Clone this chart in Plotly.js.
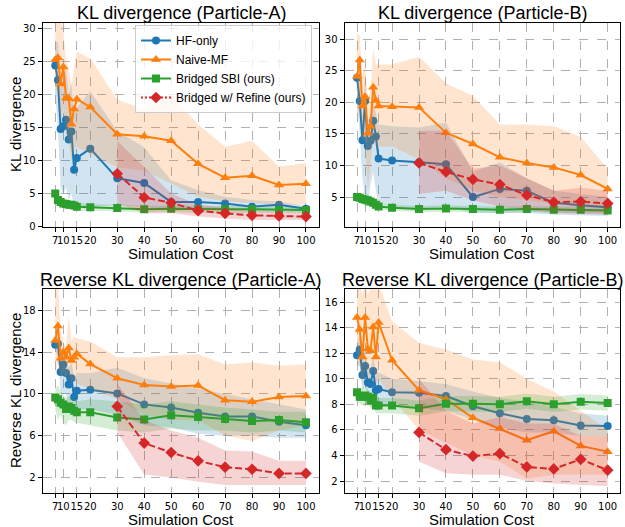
<!DOCTYPE html>
<html>
<head>
<meta charset="utf-8">
<script src="https://cdn.plot.ly/plotly-3.0.1.min.js"></script>
<style>html,body{margin:0;padding:0;background:#fff;}#chart{width:625px;height:527px;}</style>
</head>
<body>
<div id="chart"></div>
<script>
// ---------- data ----------
const X = [7,8,9,10,11,12,13,14,15,20,30,40,50,60,70,80,90,100];
const XR = [30,40,50,60,70,80,90,100];
const XTICKS = [7,10,15,20,30,40,50,60,70,80,90,100];
const SERIES_NAMES = ["HF-only","Naive-MF","Bridged SBI (ours)","Bridged w/ Refine (ours)"];

// KL divergence (Particle-A)
const klA_hf    = [24.4,22.2,14.8,15.2,16.2,13.2,14.4,8.6,10.4,11.8,7.3,6.6,3.7,3.7,3.5,3.0,3.3,2.7];
const klA_hf_lo = [20,15,6,5,6,4,5,3,3,3,3.2,3.0,2.4,2.6,2.5,2.4,2.3,2.2];
const klA_hf_hi = [28,28,22,22,24,20,22,17,18,20.5,14.5,12,7,5.5,4.5,4,3.8,3.1];
const klA_nv    = [25.3,25.6,21.6,24.2,19.5,19.4,15.5,17.8,19.3,18.1,14.0,13.7,13.0,9.5,7.4,7.7,6.3,6.5];
const klA_nv_lo = [20,21,16,18,14,13,10,12,12,11,9,8.5,6.5,4.5,3.8,3.6,3.3,3.3];
const klA_nv_hi = [31.5,31.5,31.5,30,25,24,21,24,26.5,25.5,19.2,17.8,20,15.5,12.1,13,9.1,9.6];
const klA_br    = [5.0,4.0,3.7,3.5,3.4,3.3,3.3,3.2,3.0,2.9,2.8,2.6,2.7,2.6,2.6,2.6,2.5,2.5];
const klA_br_lo = [4.4,3.4,3.1,2.9,2.8,2.7,2.7,2.6,2.4,2.4,2.3,2.1,2.2,2.1,2.1,2.1,2.0,2.0];
const klA_br_hi = [5.6,4.6,4.3,4.1,4.0,3.9,3.9,3.8,3.6,3.4,3.3,3.1,3.2,3.1,3.1,3.1,3.0,3.0];
const klA_rf    = [8.0,4.4,3.6,2.4,2.0,1.7,1.6,1.5];
const klA_rf_lo = [3.5,2.0,2.0,1.5,1.2,1.0,1.0,1.0];
const klA_rf_hi = [13,9,5,3.3,2.8,2.4,2.3,2.2];

// KL divergence (Particle-B)
const klB_hf    = [23.9,20.2,14.0,20.2,13.1,13.9,17.1,14.6,11.1,10.8,10.5,10.2,5.0,6.3,6.0,4.1,3.7,3.4];
const klB_hf_lo = [20,15,8,5,4,7,9,6,4,3.5,3,3.5,2.5,2.5,2.5,2.2,2.1,2.0];
const klB_hf_hi = [27,25,18,24,17,18,20,18,16.5,16.2,16,16.8,9,10.5,8,6,5.5,5];
const klB_nv    = [24.1,26.7,19.4,20.9,15.1,16.2,22.4,20.3,19.4,19.3,19.2,15.2,13.4,11.3,10.4,9.7,8.5,6.3];
const klB_nv_lo = [17,20,14,14,6,10,14,13,13,13,11,8,6,5,4.5,4,3.5,3.5];
const klB_nv_hi = [31,30.5,24,26,20,22,28.5,26,26,26,27.2,23,21,16.5,16.5,16.2,14.5,9.5];
const klB_br    = [5.0,4.9,4.7,4.6,4.5,4.3,4.1,3.8,3.5,3.3,3.1,3.2,3.1,3.0,3.1,3.0,3.0,2.9];
const klB_br_lo = [4.4,4.3,4.0,3.5,3.6,3.6,3.5,3.2,3.0,2.8,2.6,2.7,2.6,2.5,2.6,2.5,2.5,2.4];
const klB_br_hi = [5.6,5.5,5.5,5.8,5.4,5.0,4.7,4.4,4.0,3.8,3.6,3.7,3.6,3.5,3.6,3.5,3.5,3.4];
const klB_rf    = [10.4,9.0,7.8,7.0,5.3,4.2,4.3,4.0];
const klB_rf_lo = [5.5,6,4.5,3.5,3,2.5,2.3,2.2];
const klB_rf_hi = [15.5,15.5,9.5,10,8,6,6.5,6];

// Reverse KL divergence (Particle-A)
const rkA_hf    = [14.7,14.8,12.1,12.8,12.0,10.9,11.5,9.7,10.3,10.4,10.05,9.0,8.7,8.2,7.85,7.85,7.35,7.0];
const rkA_hf_lo = [14,13.5,10,10,10,8.5,9.5,8,8.5,8.5,8,7,6.8,6.2,6,6,5.8,5.8];
const rkA_hf_hi = [15.5,15.5,14,14,13.5,12.5,13,11.5,12,12,12.5,11.5,11,10.5,10,9.5,9,8.5];
const rkA_nv    = [15.1,16.5,13.4,14.0,13.5,14.4,13.2,13.5,13.85,12.85,11.5,10.85,10.7,10.8,9.4,9.25,9.7,9.8];
const rkA_nv_lo = [12,13,11.5,12,11.5,12,11,11.5,11,10.5,9.5,8,7.5,7.5,6,5.5,6.5,7];
const rkA_nv_hi = [20.5,20.5,16,15,14.5,17.5,15,15.5,15.3,15,13.5,13.5,13.7,13.8,12.8,13,12.7,12.8];
const rkA_br    = [9.65,9.5,9.15,9.0,8.55,8.8,8.65,8.4,8.25,8.25,7.75,7.55,7.95,7.8,7.6,7.4,7.5,7.3];
const rkA_br_lo = [8.5,7.5,8,7.3,7,7.5,7.5,7.3,7.3,7,6.5,6.3,6.7,6.5,6.5,6.3,6.5,6.3];
const rkA_br_hi = [10.5,10.8,10.2,10,9.6,9.8,9.7,9.5,9.3,9.5,9.3,9,9.3,9,8.7,8.5,8.3,8.3];
const rkA_rf    = [8.8,5.3,4.4,3.6,3.0,2.8,2.4,2.4];
const rkA_rf_lo = [6.3,2.3,2.0,1.6,1.3,1.3,1.3,1.3];
const rkA_rf_hi = [11,7.5,6.5,5.8,4.6,4.5,3.6,3.6];

// Reverse KL divergence (Particle-B)
const rkB_hf    = [11.85,12.3,10.3,11.0,9.7,9.6,10.6,9.1,9.2,8.95,8.9,8.65,7.85,7.3,6.85,6.75,6.35,6.3];
const rkB_hf_lo = [11,11,9,9.5,8.5,8.5,9,8,8,7.8,7.7,7.5,6.8,6.2,5.8,5.8,5.5,5.5];
const rkB_hf_hi = [12.8,13.5,11.8,12.2,11,10.8,11.8,10.5,10.5,10,9.8,9.6,9,8.5,8.2,7.8,7.3,7.1];
const rkB_nv    = [14.8,13.85,11.7,14.8,12.35,12.2,14.05,11.7,14.4,11.45,9.1,8.4,6.95,6.1,5.2,5.9,4.75,4.3];
const rkB_nv_lo = [11.5,11,9.5,11,10,10,11,9.5,10,8.5,6,5,4,3.5,2.2,2.5,2.5,2.5];
const rkB_nv_hi = [17.5,17.5,16.5,17.5,16.6,17.2,17.5,17.5,17.5,14.5,12.8,12.3,11.5,11.3,10,9,7.5,6];
const rkB_br    = [8.95,8.6,8.6,8.7,8.6,8.3,8.5,7.9,7.9,7.9,7.7,8.05,8.05,8.0,8.25,8.0,8.2,8.1];
const rkB_br_lo = [8.35,8.0,7.9,8.0,8.0,7.7,7.9,7.3,7.3,7.3,7.1,7.45,7.45,7.4,7.65,7.4,7.6,7.5];
const rkB_br_hi = [9.55,9.2,9.3,9.4,9.2,8.9,9.1,8.5,8.5,8.5,8.3,8.65,8.65,8.6,8.85,8.6,8.8,8.7];
const rkB_rf    = [5.8,4.45,3.95,4.15,3.1,2.95,3.7,2.85];
const rkB_rf_lo = [3.5,2.6,2.5,2.5,2.0,1.8,1.7,1.6];
const rkB_rf_hi = [10,7.5,6.5,7,6.5,6.5,5.5,5.5];

// ---------- styling ----------
const COLORS = ["#1f77b4","#ff7f0e","#2ca02c","#d62728"];
const FILLS  = ["rgba(31,119,180,0.2)","rgba(255,127,14,0.2)","rgba(44,160,44,0.2)","rgba(214,39,40,0.2)"];
const SYMBOLS = ["circle","triangle-up","square","diamond"];
const MSIZE = [8,9,8,9];

const panels = [
  {xa:"x",  ya:"y",  d:[[klA_hf,klA_hf_lo,klA_hf_hi],[klA_nv,klA_nv_lo,klA_nv_hi],[klA_br,klA_br_lo,klA_br_hi],[klA_rf,klA_rf_lo,klA_rf_hi]]},
  {xa:"x2", ya:"y2", d:[[klB_hf,klB_hf_lo,klB_hf_hi],[klB_nv,klB_nv_lo,klB_nv_hi],[klB_br,klB_br_lo,klB_br_hi],[klB_rf,klB_rf_lo,klB_rf_hi]]},
  {xa:"x3", ya:"y3", d:[[rkA_hf,rkA_hf_lo,rkA_hf_hi],[rkA_nv,rkA_nv_lo,rkA_nv_hi],[rkA_br,rkA_br_lo,rkA_br_hi],[rkA_rf,rkA_rf_lo,rkA_rf_hi]]},
  {xa:"x4", ya:"y4", d:[[rkB_hf,rkB_hf_lo,rkB_hf_hi],[rkB_nv,rkB_nv_lo,rkB_nv_hi],[rkB_br,rkB_br_lo,rkB_br_hi],[rkB_rf,rkB_rf_lo,rkB_rf_hi]]}
];

const traces = [];
panels.forEach(p => {
  p.d.forEach((s, i) => {
    const xs = (i === 3) ? XR : X;
    traces.push({
      x: xs.concat(xs.slice().reverse()),
      y: s[2].concat(s[1].slice().reverse()),
      type: "scatter", mode: "lines", fill: "toself",
      fillcolor: FILLS[i], line: {width: 0, color: FILLS[i]},
      hoverinfo: "skip", showlegend: false, xaxis: p.xa, yaxis: p.ya
    });
    traces.push({
      x: xs, y: s[0], type: "scatter", mode: "lines+markers",
      name: SERIES_NAMES[i],
      line: {color: COLORS[i], width: 2, dash: i === 3 ? "7px,3px" : "solid"},
      marker: {symbol: SYMBOLS[i], size: MSIZE[i], color: COLORS[i], line: {width: 0}},
      showlegend: false, xaxis: p.xa, yaxis: p.ya
    });
  });
});
// legend entries
SERIES_NAMES.forEach((n, i) => {
  traces.push({
    x: [null], y: [null], type: "scatter", mode: "lines+markers", name: n,
    line: {color: COLORS[i], width: 2, dash: i === 3 ? "2px,2px" : "solid"},
    marker: {symbol: SYMBOLS[i], size: MSIZE[i], color: COLORS[i]},
    xaxis: "x", yaxis: "y", showlegend: true
  });
});

const tickFont = {family: "DejaVu Sans", size: 10, color: "#000"};
function xaxis(dom, anchor) {
  return {
    domain: dom, anchor: anchor, range: [2.35, 104.65],
    tickmode: "array", tickvals: XTICKS, ticktext: XTICKS.map(String), tickangle: 0,
    ticks: "outside", ticklen: 4, tickcolor: "#000", tickwidth: 1,
    showline: true, mirror: true, linecolor: "#000", linewidth: 1,
    showgrid: true, gridcolor: "#b0b0b0", griddash: "dash", gridwidth: 1,
    zeroline: false, tickfont: tickFont, fixedrange: true
  };
}
function yaxis(dom, anchor, range, ticks) {
  return {
    domain: dom, anchor: anchor, range: range,
    tickmode: "array", tickvals: ticks, tickangle: 0,
    ticks: "outside", ticklen: 4, tickcolor: "#000", tickwidth: 1,
    showline: true, mirror: true, linecolor: "#000", linewidth: 1,
    showgrid: true, gridcolor: "#b0b0b0", griddash: "dash", gridwidth: 1,
    zeroline: false, tickfont: tickFont, fixedrange: true
  };
}
const W = 625, H = 527;
const px = v => v / W, py = v => 1 - v / H;
const xdL = [px(42.7), px(318.5)], xdR = [px(344.5), px(620.2)];

const titleFont = {family: "Liberation Sans, Arial, sans-serif", size: 18, color: "#000"};
const labFont = {family: "Liberation Sans, Arial, sans-serif", size: 15, color: "#000"};
function ann(text, x, y, font, rot) {
  return {text: text, x: x, y: y, xref: "paper", yref: "paper", xanchor: "center", yanchor: "middle",
          showarrow: false, font: font, textangle: rot || 0};
}

const layout = {
  width: W, height: H,
  margin: {l: 0, r: 0, t: 0, b: 0},
  paper_bgcolor: "#fff", plot_bgcolor: "#fff",
  showlegend: true,
  legend: {
    x: px(135), y: py(25), xanchor: "left", yanchor: "top",
    bgcolor: "rgba(255,255,255,0.8)", bordercolor: "#cccccc", borderwidth: 1,
    font: {family: "Liberation Sans, Arial, sans-serif", size: 12, color: "#000"},
    tracegroupgap: 0, itemwidth: 30
  },
  xaxis:  xaxis(xdL, "y"),
  yaxis:  yaxis([py(226.5), py(22.7)], "x",  [0, 30.9], [0,5,10,15,20,25,30]),
  xaxis2: xaxis(xdR, "y2"),
  yaxis2: yaxis([py(226.5), py(22.7)], "x2", [0.35, 32.6], [5,10,15,20,25,30]),
  xaxis3: xaxis(xdL, "y3"),
  yaxis3: yaxis([py(493.3), py(289.3)], "x3", [0.5, 20], [2,6,10,14,18]),
  xaxis4: xaxis(xdR, "y4"),
  yaxis4: yaxis([py(493.3), py(289.3)], "x4", [1.04, 17], [2,4,6,8,10,12,14,16]),
  annotations: [
    ann("KL divergence (Particle-A)", px(181), py(13), titleFont),
    ann("KL divergence (Particle-B)", px(482), py(13), titleFont),
    ann("Reverse KL divergence (Particle-A)", px(180), py(279.5), titleFont),
    ann("Reverse KL divergence (Particle-B)", px(482), py(279.5), titleFont),
    ann("Simulation Cost", px(180.6), py(253), labFont),
    ann("Simulation Cost", px(482.3), py(253), labFont),
    ann("Simulation Cost", px(180.6), py(519), labFont),
    ann("Simulation Cost", px(482.3), py(519), labFont),
    ann("KL divergence", px(15), py(125), labFont, -90),
    ann("Reverse KL divergence", px(15), py(391), labFont, -90)
  ]
};

Plotly.newPlot("chart", traces, layout, {displayModeBar: false, staticPlot: true});
</script>
</body>
</html>
